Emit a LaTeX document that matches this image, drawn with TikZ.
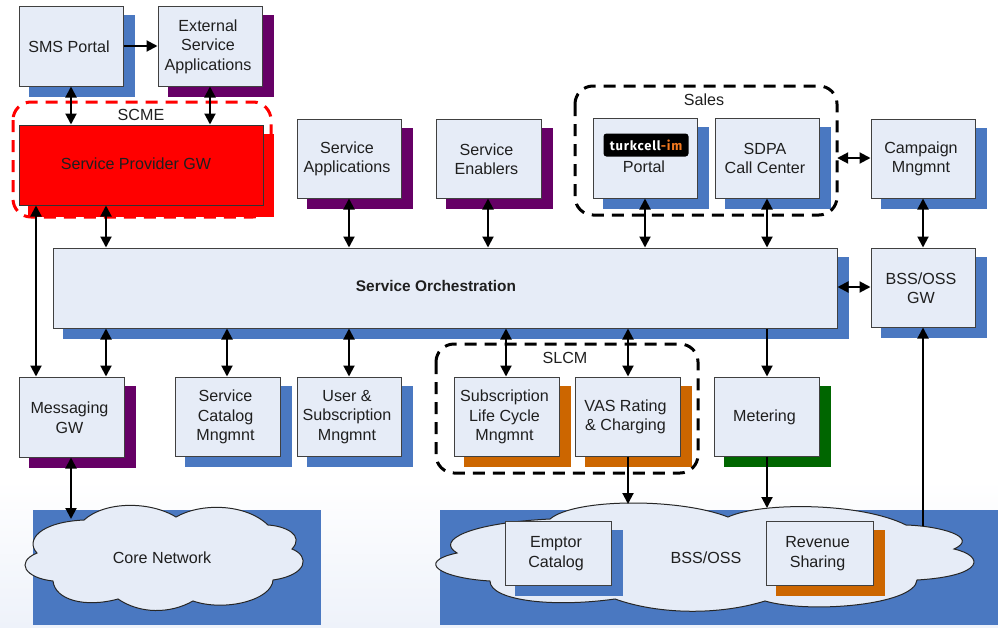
\documentclass[tikz,border=0pt]{standalone}
\usepackage{fontspec}
\setmainfont{Liberation Sans}
\newfontfamily\logofont[LetterSpace=6]{Fira Sans}
\usetikzlibrary{arrows.meta}
\definecolor{boxfill}{HTML}{E6ECF7}
\definecolor{boxline}{HTML}{404040}
\definecolor{sblue}{HTML}{4A78C1}
\definecolor{spurple}{HTML}{660066}
\definecolor{sorange}{HTML}{CC6600}
\definecolor{sgreen}{HTML}{006600}
\definecolor{sred}{HTML}{FF0000}
\definecolor{bglow}{HTML}{EEF2FA}
\definecolor{logoorange}{HTML}{F47A20}
\tikzset{
  lbl/.style={align=center,font=\fontsize{16.1}{19.5}\selectfont,text=black!88,inner sep=0pt},
  boxnode/.style={draw=boxline,fill=boxfill,line width=1pt,inner sep=0pt},
  link/.style={draw=black,line width=2pt},
  one/.style={link,-{Triangle[width=11pt,length=11pt]}},
  both/.style={link,{Triangle[width=11pt,length=11pt]}-{Triangle[width=11pt,length=11pt]}},
  dashbox/.style={line width=3pt,rounded corners=18pt,dash pattern=on 12pt off 8pt},
  cloudshape/.style={draw=black!85,fill=boxfill,line width=1pt},
}
% name, x0, y0, x1, y1, shadow colour, text
\newcommand\diagbox[7]{%
  \pgfmathsetmacro\sxa{#2+10}\pgfmathsetmacro\sya{#3+9}%
  \pgfmathsetmacro\sxb{#4+12}\pgfmathsetmacro\syb{#5+11}%
  \fill[#6] (\sxa,\sya) rectangle (\sxb,\syb);
  \pgfmathsetmacro\cxx{(#2+#4)/2}\pgfmathsetmacro\cyy{(#3+#5)/2}%
  \pgfmathsetmacro\txx{\cxx-2}\pgfmathsetmacro\tyy{\cyy+0.5}%
  \pgfmathsetmacro\wdd{#4-#2}\pgfmathsetmacro\htt{#5-#3}%
  \node[boxnode,minimum width=\wdd pt,minimum height=\htt pt] (#1) at (\cxx,\cyy) {};
  \node[lbl] (#1text) at (\txx,\tyy) {#7};
}
\begin{document}
\begin{tikzpicture}[x=1pt,y=-1pt]
\useasboundingbox (0,0) rectangle (998,627);
\fill[white] (0,0) rectangle (998,627);
\shade[top color=white,bottom color=bglow] (0,480) rectangle (998,627);

\foreach \v in {36,71,106,210,227,349,488,506,628,645,767,923}
  \coordinate (x\v) at (\v,0);
\coordinate (y46) at (0,46);
\coordinate (y158) at (0,158);
\coordinate (y287) at (0,287);

% bottom blocks and clouds
\fill[sblue] (33,510) rectangle (321,625);
\fill[sblue] (440,510) rectangle (998,625);
\draw[cloudshape] (37,553)
  .. controls (25,540) and (40,522) .. (84,520)
  .. controls (105,501) and (150,501) .. (176,517)
  .. controls (200,503) and (245,503) .. (268,525)
  .. controls (285,526) and (305,535) .. (292,549)
  .. controls (310,556) and (308,575) .. (273,580)
  .. controls (272,600) and (225,612) .. (193,601)
  .. controls (170,614) and (140,614) .. (118,599)
  .. controls (85,608) and (55,600) .. (53,581)
  .. controls (25,578) and (15,562) .. (37,553) -- cycle;
\draw[cloudshape] (457,553)
  .. controls (435,540) and (470,523) .. (550,519)
  .. controls (575,498) and (680,498) .. (728,517)
  .. controls (760,502) and (860,502) .. (906,525)
  .. controls (940,526) and (980,537) .. (954,549)
  .. controls (985,556) and (985,576) .. (917,580)
  .. controls (915,605) and (810,614) .. (765,601)
  .. controls (720,615) and (660,615) .. (615,599)
  .. controls (550,608) and (490,600) .. (490,581)
  .. controls (440,578) and (415,562) .. (457,553) -- cycle;
\coordinate (coreTop) at (71,519);
\coordinate (bssTopA) at (628,504);
\coordinate (bssTopB) at (767,508);
\coordinate (bssTopC) at (923,526);
\node[lbl] (coreLabel) at (162,558) {Core Network};
\node[lbl] (bssLabel) at (706,558) {BSS/OSS};

% SCME group
\fill[sred] (28,134) rectangle (274,217);
\draw[dashbox,sred] (13,102) rectangle (271,217);
\diagbox{sms}{19}{6}{123}{86}{sblue}{SMS Portal}
\diagbox{ext}{158}{6}{262}{86}{spurple}{External\\Service\\Applications}
\node[boxnode,fill=sred,draw=black!80,minimum width=244pt,minimum height=80pt] (prov) at (141,165) {};
\node[lbl] (provLabel) at (136,164) {Service Provider GW};
\node[lbl] (scme) at (141,115) {SCME};

\diagbox{sapp}{297}{119}{401}{198}{spurple}{Service\\Applications}
\diagbox{senab}{436}{119}{541}{198}{spurple}{Service\\Enablers}

% Sales group
\diagbox{portal}{593}{118}{697}{198}{sblue}{}
\diagbox{sdpa}{715}{118}{819}{198}{sblue}{SDPA\\Call Center}
\node[fill=black,rounded corners=3pt,minimum width=85pt,minimum height=23pt,inner sep=0pt,
  font=\logofont\fontsize{13}{14}\bfseries\selectfont,text=white] (logo) at (646,145)
  {turkcell\textcolor{logoorange}{-im}};
\node[lbl] (portalLabel) at (644,167) {Portal};
\node[draw=none,fill=none,minimum width=262pt,minimum height=129pt,inner sep=0pt] (sales) at (706,150.5) {};
\draw[dashbox,black] (575,86) rectangle (837,215);
\node[lbl] (salesLabel) at (704,100) {Sales};

\diagbox{camp}{871}{119}{975}{198}{sblue}{Campaign\\Mngmnt}
\diagbox{orch}{53}{248}{837}{328}{sblue}{}
\node[lbl,font=\fontsize{15.4}{19.5}\bfseries\selectfont] (orchLabel) at (436,286) {Service Orchestration};
\diagbox{gw}{871}{248}{975}{327}{sblue}{BSS/OSS\\GW}

\diagbox{msg}{19}{377}{124}{457}{spurple}{Messaging\\GW}
\diagbox{cat}{175}{377}{280}{456}{sblue}{Service\\Catalog\\Mngmnt}
\diagbox{user}{297}{377}{401}{456}{sblue}{User \&\\Subscription\\Mngmnt}
\diagbox{subs}{454}{377}{559}{456}{sorange}{Subscription\\Life Cycle\\Mngmnt}
\diagbox{vas}{575}{377}{680}{456}{sorange}{VAS Rating\\\& Charging}
\diagbox{meter}{714}{377}{819}{456}{sgreen}{Metering}
\draw[dashbox,black] (436,344) rectangle (698,473);
\node[lbl] (slcm) at (565,358) {SLCM};

\diagbox{emptor}{505}{521}{611}{585}{sblue}{Emptor\\Catalog}
\diagbox{rev}{766}{521}{873}{585}{sorange}{Revenue\\Sharing}

% connectors
\draw[one] (sms.east |- y46) -- (ext.west |- y46);
\draw[both] (x71 |- sms.south) -- (x71 |- prov.north);
\draw[both] (x210 |- ext.south) -- (x210 |- prov.north);
\draw[both] (x36 |- prov.south) -- (x36 |- msg.north);
\draw[both] (x106 |- prov.south) -- (x106 |- orch.north);
\draw[both] (x349 |- sapp.south) -- (x349 |- orch.north);
\draw[both] (x488 |- senab.south) -- (x488 |- orch.north);
\draw[both] (x645 |- portal.south) -- (x645 |- orch.north);
\draw[both] (x767 |- sdpa.south) -- (x767 |- orch.north);
\draw[both] (sales.east |- y158) -- (camp.west |- y158);
\draw[both] (orch.east |- y287) -- (gw.west |- y287);
\draw[both] (x923 |- camp.south) -- (x923 |- gw.north);
\draw[both] (x106 |- orch.south) -- (x106 |- msg.north);
\draw[both] (x227 |- orch.south) -- (x227 |- cat.north);
\draw[both] (x349 |- orch.south) -- (x349 |- user.north);
\draw[both] (x506 |- orch.south) -- (x506 |- subs.north);
\draw[both] (x628 |- orch.south) -- (x628 |- vas.north);
\draw[one] (x767 |- orch.south) -- (x767 |- meter.north);
\draw[both] (x71 |- msg.south) -- (coreTop);
\draw[one] (x628 |- vas.south) -- (bssTopA);
\draw[one] (x767 |- meter.south) -- (bssTopB);
\draw[one] (bssTopC) -- (x923 |- gw.south);
\end{tikzpicture}
\end{document}
